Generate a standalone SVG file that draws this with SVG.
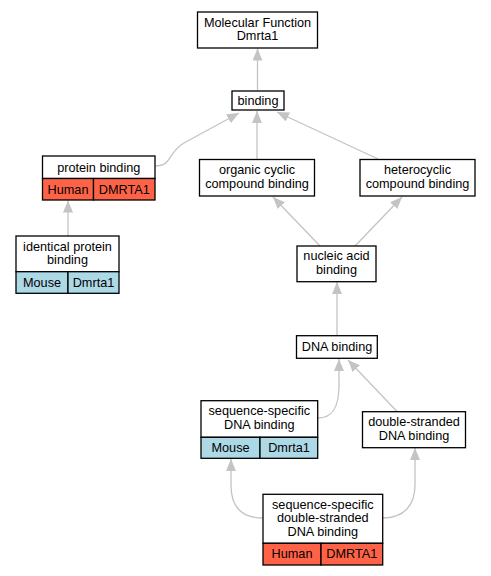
<svg xmlns="http://www.w3.org/2000/svg" width="491" height="576" viewBox="0 0 491 576">
<style>
text{font-family:"Liberation Sans",Arial,sans-serif;font-size:12.7px;fill:#000;text-anchor:middle}
.n{fill:#fff;stroke:#000;stroke-width:1.3}
.h{fill:#ff6347;stroke:#000;stroke-width:1.3}
.m{fill:#add8e6;stroke:#000;stroke-width:1.3}
.e{fill:none;stroke:#c4c4c4;stroke-width:1.3;marker-end:url(#a)}
</style>
<defs>
<marker id="a" markerUnits="userSpaceOnUse" markerWidth="13" markerHeight="11" refX="12" refY="5" orient="auto" viewBox="0 0 13 11">
<path d="M0,0 L12,5 L0,10 z" fill="#c4c4c4"/>
</marker>
</defs>
<rect width="491" height="576" fill="#fff"/>
<g id="edges">
<path class="e" d="M257.5,91 L257.5,48.5"/>
<path class="e" d="M155.5,166 C172,166 168,152 184,143 L239,113"/>
<path class="e" d="M257,159 L257,111"/>
<path class="e" d="M378,159 L277,112"/>
<path class="e" d="M68,236 L68,200.5"/>
<path class="e" d="M320,246 L273,197"/>
<path class="e" d="M355,246 L402,197"/>
<path class="e" d="M337,335.5 L337,282"/>
<path class="e" d="M318,418 C334,418 339,405 339,385 L339,359"/>
<path class="e" d="M397,411.5 L348,360"/>
<path class="e" d="M262.5,518 C240,518 231,505 231,485 L231,459"/>
<path class="e" d="M383,518 C404,518 415,505 415,485 L415,448"/>
</g>
<g id="mf">
<rect class="n" x="197.5" y="12" width="120" height="36"/>
<text x="257.5" y="26.5">Molecular Function</text>
<text x="257.5" y="40">Dmrta1</text>
</g>
<g id="binding">
<rect class="n" x="232" y="91" width="52" height="19"/>
<text x="258" y="105">binding</text>
</g>
<g id="protein_binding">
<rect class="n" x="42.5" y="156" width="112.5" height="22.5"/>
<rect class="h" x="42.5" y="178.5" width="51" height="21.5"/>
<rect class="h" x="93.5" y="178.5" width="61.5" height="21.5"/>
<text x="98.75" y="171.5">protein binding</text>
<text x="68" y="193.5">Human</text>
<text x="124.25" y="193.5">DMRTA1</text>
</g>
<g id="identical_protein_binding">
<rect class="n" x="16" y="236" width="103" height="35.7"/>
<rect class="m" x="16" y="271.7" width="52" height="21.6"/>
<rect class="m" x="68" y="271.7" width="51" height="21.6"/>
<text x="67.5" y="250.5">identical protein</text>
<text x="67.5" y="263.5">binding</text>
<text x="42" y="286.5">Mouse</text>
<text x="93.5" y="286.5">Dmrta1</text>
</g>
<g id="organic_cyclic">
<rect class="n" x="199.5" y="159.5" width="115" height="36.5"/>
<text x="257" y="174">organic cyclic</text>
<text x="257" y="187.5">compound binding</text>
</g>
<g id="heterocyclic">
<rect class="n" x="360" y="159.5" width="115" height="36.5"/>
<text x="417.5" y="174">heterocyclic</text>
<text x="417.5" y="187.5">compound binding</text>
</g>
<g id="nucleic_acid">
<rect class="n" x="297" y="246" width="79" height="35.7"/>
<text x="336.5" y="260">nucleic acid</text>
<text x="336.5" y="274">binding</text>
</g>
<g id="dna_binding">
<rect class="n" x="296.5" y="335.7" width="80.8" height="22.6"/>
<text x="337" y="351">DNA binding</text>
</g>
<g id="seq_specific">
<rect class="n" x="201" y="400.7" width="116.7" height="36.6"/>
<rect class="m" x="201" y="437.3" width="59" height="21"/>
<rect class="m" x="260" y="437.3" width="57.7" height="21"/>
<text x="259.3" y="415">sequence-specific</text>
<text x="259.3" y="429">DNA binding</text>
<text x="230.5" y="452">Mouse</text>
<text x="289" y="452">Dmrta1</text>
</g>
<g id="double_stranded">
<rect class="n" x="362.5" y="411.7" width="103" height="36"/>
<text x="414" y="426">double-stranded</text>
<text x="414" y="440">DNA binding</text>
</g>
<g id="ssds">
<rect class="n" x="263" y="494.3" width="119.7" height="49"/>
<rect class="h" x="263" y="543.3" width="58" height="21.7"/>
<rect class="h" x="321" y="543.3" width="61.7" height="21.7"/>
<text x="322.8" y="508.5">sequence-specific</text>
<text x="322.8" y="522">double-stranded</text>
<text x="322.8" y="535.5">DNA binding</text>
<text x="292" y="558">Human</text>
<text x="351.8" y="558">DMRTA1</text>
</g>
</svg>
